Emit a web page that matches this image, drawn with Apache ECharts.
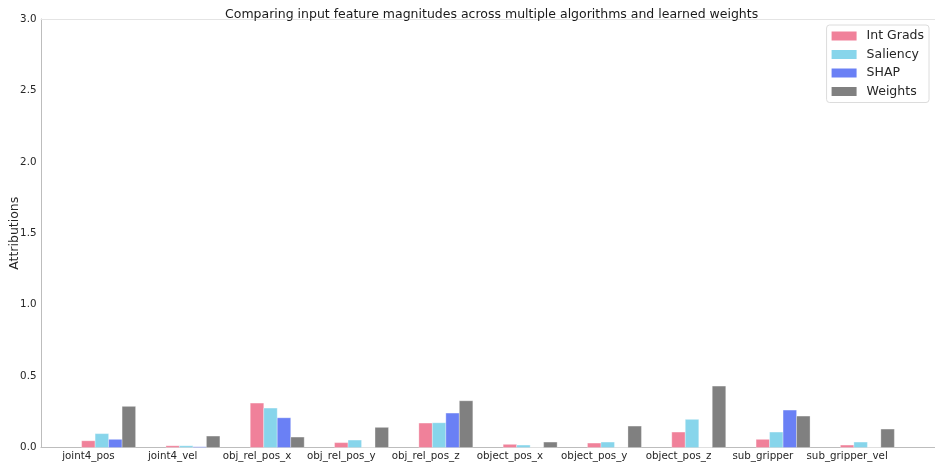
<!DOCTYPE html>
<html>
<head>
<meta charset="utf-8">
<script src="https://cdn.jsdelivr.net/npm/echarts@6/dist/echarts.min.js"></script>
<style>
  html, body { margin: 0; padding: 0; background: #fff; }
  #chart { width: 935px; height: 464px; }
</style>
</head>
<body>
<div id="chart"></div>
<script>
// Feature names along the x axis
const categories = ['joint4_pos', 'joint4_vel', 'obj_rel_pos_x', 'obj_rel_pos_y', 'obj_rel_pos_z',
  'object_pos_x', 'object_pos_y', 'object_pos_z', 'sub_gripper', 'sub_gripper_vel'];

// Attribution magnitudes per method
const intGrads = [0.047, 0.012, 0.311, 0.034, 0.171, 0.022, 0.031, 0.108, 0.057, 0.017];
const saliency = [0.097, 0.012, 0.276, 0.052, 0.173, 0.017, 0.038, 0.197, 0.108, 0.038];
const shap     = [0.057, 0.005, 0.208, 0.000, 0.241, 0.000, 0.000, 0.000, 0.262, 0.000];
const weights  = [0.288, 0.080, 0.073, 0.141, 0.327, 0.038, 0.150, 0.430, 0.220, 0.129];

const seriesNames = ['Int Grads', 'Saliency', 'SHAP', 'Weights'];
const seriesColors = ['#f0819a', '#87d5eb', '#6a80f5', '#808080'];
const yTicks = [0, 0.5, 1.0, 1.5, 2.0, 2.5, 3.0];

// Bars within a group sit side by side, each barStep wide (in category units)
const barStep = 0.16;
const xMin = -0.562, xMax = 10.042;

const FONT = 'DejaVu Sans';
const TEXT = '#262626';

// Rectangle from the baseline up to the value, width taken from the x scale
function renderBar(params, api) {
  const x = api.value(0), y = api.value(1);
  const base = api.coord([x, 0]);
  const top = api.coord([x, y]);
  const w = api.size([barStep, 0])[0];
  return {
    type: 'rect',
    shape: { x: base[0] - w / 2, y: top[1], width: w, height: base[1] - top[1] },
    style: api.style({ stroke: 'rgba(255,255,255,0.3)', lineWidth: 1 })
  };
}

const allValues = [intGrads, saliency, shap, weights];
const series = allValues.map((vals, k) => ({
  name: seriesNames[k],
  type: 'custom',
  renderItem: renderBar,
  encode: { x: 0, y: 1 },
  itemStyle: { color: seriesColors[k] },
  data: vals.map((v, i) => [i + k * barStep, v])
}));

const chart = echarts.init(document.getElementById('chart'), null, { renderer: 'canvas' });
chart.setOption({
  animation: false,
  backgroundColor: '#fff',
  title: {
    text: 'Comparing input feature magnitudes across multiple algorithms and learned weights',
    left: 220, top: 3,
    textStyle: { fontFamily: FONT, fontSize: 12.5, fontWeight: 'normal', color: '#1a1a1a' }
  },
  legend: {
    orient: 'vertical',
    right: 6, top: 25,
    data: seriesNames.map(n => ({ name: n, icon: 'rect' })),
    itemWidth: 25, itemHeight: 9, itemGap: 4.5,
    padding: [4, 5, 4, 5],
    backgroundColor: 'rgba(255,255,255,0.85)',
    borderColor: '#dcdcdc', borderWidth: 1, borderRadius: 3,
    textStyle: { fontFamily: FONT, fontSize: 12.5, color: TEXT, lineHeight: 14, padding: [0, 0, 0, 5] }
  },
  grid: { left: 41, right: 0, top: 19, bottom: 16.5, containLabel: false, outerBoundsMode: 'none' },
  xAxis: [{
    type: 'value', min: xMin, max: xMax,
    axisLine: { show: true, onZero: false, lineStyle: { color: '#bdbdbd', width: 1 } },
    axisTick: { show: false },
    splitLine: { show: false },
    axisLabel: {
      customValues: categories.map((c, i) => i),
      formatter: v => categories[Math.round(v)],
      fontFamily: FONT, fontSize: 10.3, color: TEXT, margin: 4
    }
  }, {
    type: 'value', position: 'top', min: xMin, max: xMax,
    axisLine: { show: true, onZero: false, lineStyle: { color: '#e4e4e4', width: 1 } },
    axisTick: { show: false }, axisLabel: { show: false }, splitLine: { show: false }
  }],
  yAxis: {
    type: 'value', min: 0, max: 3, interval: 0.5,
    name: 'Attributions', nameLocation: 'middle', nameGap: 20, nameMoveOverlap: false,
    nameTextStyle: { fontFamily: FONT, fontSize: 12.5, color: TEXT },
    axisLine: { show: true, onZero: false, lineStyle: { color: '#bdbdbd', width: 1 } },
    axisTick: { show: false },
    splitLine: { show: false },
    axisLabel: {
      customValues: yTicks,
      formatter: v => v.toFixed(1),
      fontFamily: FONT, fontSize: 10.3, color: TEXT, margin: 4.5
    }
  },
  series: series
});
</script>
</body>
</html>
